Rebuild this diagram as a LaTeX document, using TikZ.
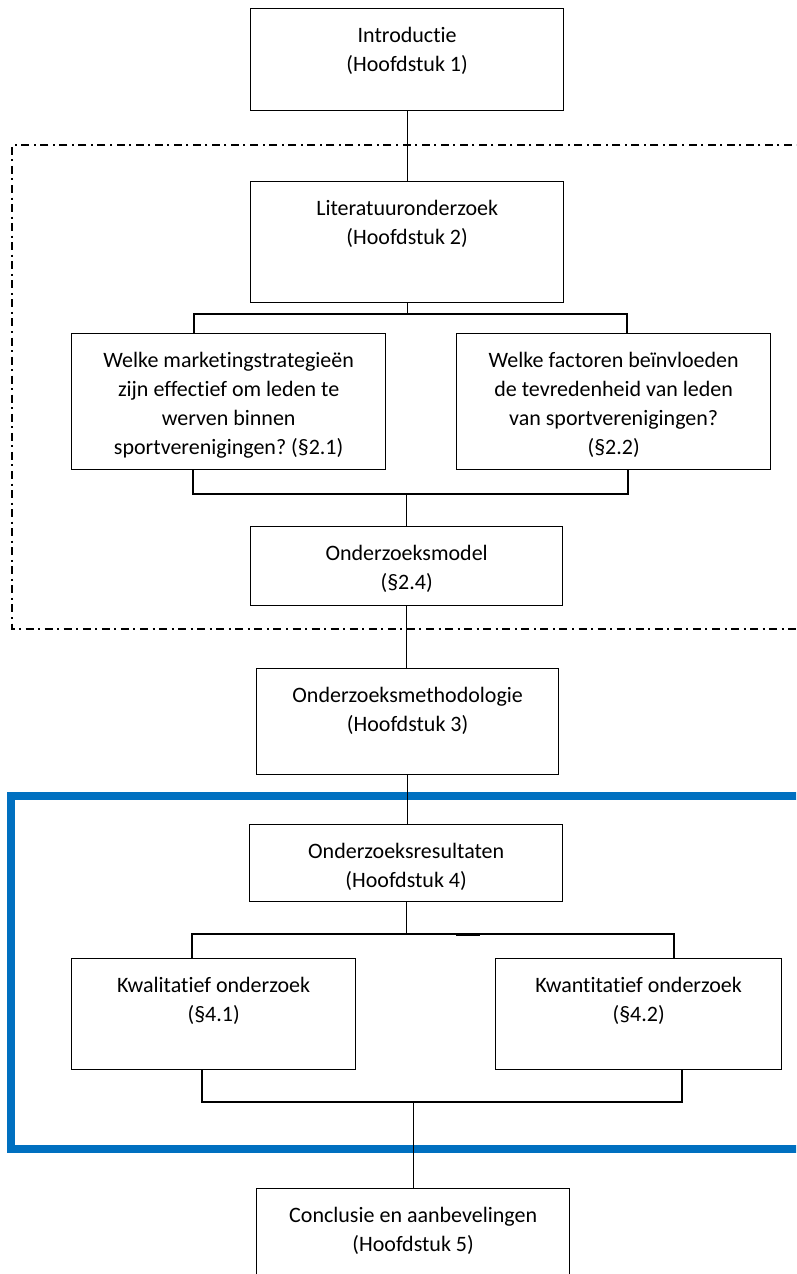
\documentclass[tikz,border=0pt]{standalone}
\usepackage{fontspec}
\setmainfont{Carlito}[Ligatures=NoCommon]
\definecolor{wordblue}{RGB}{0,112,192}
\frenchspacing
\begin{document}
\begin{tikzpicture}[x=0.75pt,y=-0.75pt,
  box/.style 2 args={draw, line width=1pt, rectangle, anchor=north west,
    inner sep=0pt, minimum width=#1*0.75pt, minimum height=#2*0.75pt},
  lbl/.style={anchor=north, inner sep=0pt, align=center, yshift=-14pt,
    font=\fontsize{16.5}{21.75}\selectfont, execute at begin node=\strut},
  link/.style={line width=1pt},
  frame/.style={line width=1.2pt,
    dash pattern=on 6pt off 3.4pt on 1.5pt off 3.4pt},
  band/.style={line width=6pt, draw=wordblue}]
\useasboundingbox (0,0) rectangle (796,1274);
\clip (0,0) rectangle (796,1274);

% frames around the literature part and the results part
\draw[frame] (830,145) -- (12,145) -- (12,629) -- (830,629);
\draw[band] (830,796) -- (11,796) -- (11,1149) -- (830,1149);

% boxes
\node[box={313}{102}, label={[lbl]north:{Introductie\\(Hoofdstuk 1)}}] (intro) at (250,8) {};
\node[box={313}{121}, label={[lbl]north:{Literatuuronderzoek\\(Hoofdstuk 2)}}] (lit) at (250,181) {};
\node[box={314}{136}, label={[lbl]north:{Welke marketingstrategieën\\zijn effectief om leden te\\werven binnen\\sportverenigingen? (§2.1)}}] (q1) at (71,333) {};
\node[box={314}{136}, label={[lbl]north:{Welke factoren beïnvloeden\\de tevredenheid van leden\\van sportverenigingen?\\(§2.2)}}] (q2) at (456,333) {};
\node[box={312}{79}, label={[lbl]north:{Onderzoeksmodel\\(§2.4)}}] (model) at (250,526) {};
\node[box={302}{106}, label={[lbl]north:{Onderzoeksmethodologie\\(Hoofdstuk 3)}}] (method) at (256,668) {};
\node[box={313}{77}, label={[lbl]north:{Onderzoeksresultaten\\(Hoofdstuk 4)}}] (results) at (249,824) {};
\node[box={284}{111}, label={[lbl]north:{Kwalitatief onderzoek\\(§4.1)}}] (kwal) at (71,958) {};
\node[box={286}{111}, label={[lbl]north:{Kwantitatief onderzoek\\(§4.2)}}] (kwan) at (495,958) {};
\node[box={313}{120}, label={[lbl]north:{Conclusie en aanbevelingen\\(Hoofdstuk 5)}}] (concl) at (256,1188) {};

% junction points
\coordinate (j1l) at (194,314);
\coordinate (j1r) at (627,314);
\coordinate (j2l) at (193,494);
\coordinate (j2r) at (628,494);
\coordinate (j3l) at (192,934);
\coordinate (j3r) at (674,934);
\coordinate (j4l) at (202,1102);
\coordinate (j4r) at (682,1102);

% connectors
\draw[link] (intro.south) -- (lit.north);
\draw[link] (lit.south) -- (lit.south |- j1l);
\draw[link] (q1.north -| j1l) -- (j1l) -- (j1r) -- (q2.north -| j1r);
\draw[link] (q1.south -| j2l) -- (j2l) -- (j2r) -- (q2.south -| j2r);
\draw[link] (model.north) -- (model.north |- j2l);
\draw[link] (model.south) -- (method.north -| model.south);
\draw[link] (method.south) -- (results.north -| method.south);
\draw[link] (results.south) -- (results.south |- j3l);
\draw[link] (kwal.north -| j3l) -- (j3l) -- (j3r) -- (kwan.north -| j3r);
\draw[line width=1.5pt] (456,935) -- (480,935);
\draw[link] (kwal.south -| j4l) -- (j4l) -- (j4r) -- (kwan.south -| j4r);
\draw[link] (concl.north) -- (concl.north |- j4l);
\end{tikzpicture}
\end{document}
